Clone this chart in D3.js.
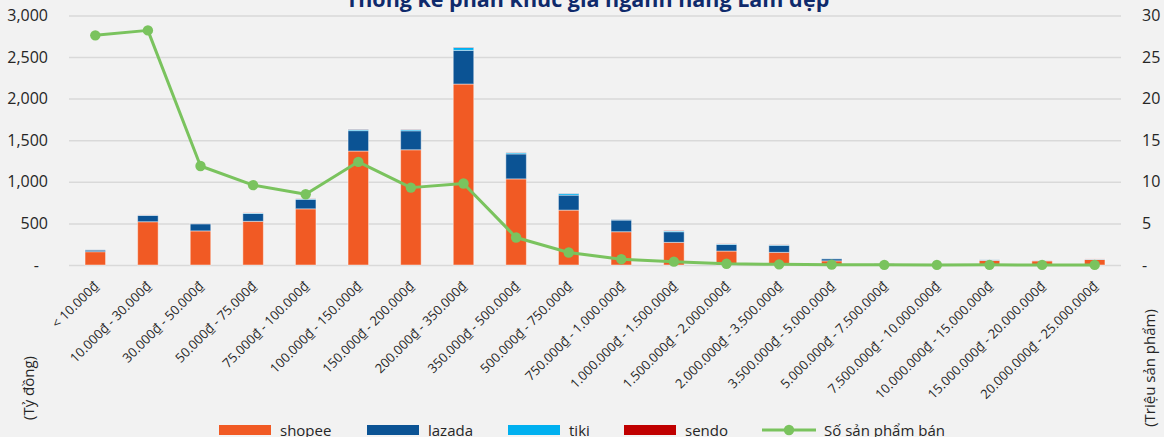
<!DOCTYPE html>
<html>
<head>
<meta charset="utf-8">
<script src="https://cdn.jsdelivr.net/npm/d3@7"></script>
<style>
  html, body { margin: 0; padding: 0; background: #f2f2f2; }
  svg { display: block; }
</style>
</head>
<body>
<svg id="chart" width="1164" height="437"></svg>
<script>
// Price segments
const categories = [
  "< 10.000₫", "10.000₫ - 30.000₫", "30.000₫ - 50.000₫", "50.000₫ - 75.000₫",
  "75.000₫ - 100.000₫", "100.000₫ - 150.000₫", "150.000₫ - 200.000₫",
  "200.000₫ - 350.000₫", "350.000₫ - 500.000₫", "500.000₫ - 750.000₫",
  "750.000₫ - 1.000.000₫", "1.000.000₫ - 1.500.000₫", "1.500.000₫ - 2.000.000₫",
  "2.000.000₫ - 3.500.000₫", "3.500.000₫ - 5.000.000₫", "5.000.000₫ - 7.500.000₫",
  "7.500.000₫ - 10.000.000₫", "10.000.000₫ - 15.000.000₫",
  "15.000.000₫ - 20.000.000₫", "20.000.000₫ - 25.000.000₫"
];

// Revenue per platform (tỷ đồng)
const shopee = [160, 520, 410, 525, 675, 1370, 1385, 2175, 1035, 660, 400, 272, 168, 152, 50, 6, 0, 55, 50, 68];
const lazada = [20, 75, 85, 95, 115, 245, 228, 405, 300, 180, 140, 128, 80, 85, 25, 8, 0, 5, 3, 2];
const tiki   = [3, 5, 5, 5, 5, 15, 15, 35, 15, 20, 8, 10, 5, 5, 4, 3, 0, 3, 2, 2];
const sendo  = [1, 2, 2, 2, 2, 3, 3, 4, 3, 2, 2, 4, 2, 2, 1, 2, 0, 1, 1, 1];

// Products sold (triệu sản phẩm)
const sold = [27.6, 28.2, 11.9, 9.6, 8.5, 12.4, 9.3, 9.8, 3.3, 1.5, 0.7, 0.4, 0.15, 0.08, 0.04, 0.02, 0.01, 0.02, 0.01, 0.01];

const leftTicks = [0, 500, 1000, 1500, 2000, 2500, 3000];
const rightTicks = [0, 5, 10, 15, 20, 25, 30];

const seriesNames = ["shopee", "lazada", "tiki", "sendo"];
const seriesColors = ["#f15a24", "#0b5394", "#00b0f0", "#c00000"];
const lineName = "Số sản phẩm bán";
const lineColor = "#7ac35e";

const title = "Thống kê phân khúc giá ngành hàng Làm đẹp";
const leftTitle = "(Tỷ đồng)";
const rightTitle = "(Triệu sản phẩm)";

const FONT = '"Open Sans", "Noto Sans", sans-serif';
const TEXT = "#262626";

const svg = d3.select("#chart");
const W = 1164, H = 437;
const plot = { left: 69, right: 1121, top: 15.4, bottom: 265 };

svg.append("rect").attr("width", W).attr("height", H).attr("fill", "#f2f2f2");

const x = d3.scaleBand().domain(categories).range([plot.left, plot.right]).padding(0);
const yL = d3.scaleLinear().domain([0, 3000]).range([plot.bottom, plot.top]);
const yR = d3.scaleLinear().domain([0, 30]).range([plot.bottom, plot.top]);

// Left axis with gridlines
const gL = svg.append("g")
  .attr("transform", `translate(${plot.left},0)`)
  .call(d3.axisLeft(yL).tickValues(leftTicks)
    .tickSize(-(plot.right - plot.left)).tickPadding(21)
    .tickFormat(d => d === 0 ? "-" : d3.format(",")(d)));
gL.select(".domain").remove();
gL.selectAll(".tick line").attr("stroke", "#d9d9d9").attr("stroke-width", 1.5);
gL.selectAll(".tick text").attr("fill", TEXT)
  .style("font-family", FONT).style("font-size", "16px")
  .attr("dx", d => d === 0 ? -9 : 0);

// Right axis
const gR = svg.append("g")
  .attr("transform", `translate(${plot.right},0)`)
  .call(d3.axisRight(yR).tickValues(rightTicks).tickSize(0).tickPadding(21)
    .tickFormat(d => d === 0 ? "-" : d));
gR.select(".domain").remove();
gR.selectAll(".tick text").attr("fill", TEXT)
  .style("font-family", FONT).style("font-size", "16px");

// Stacked bars
const rows = categories.map((c, i) => ({ cat: c, shopee: shopee[i], lazada: lazada[i], tiki: tiki[i], sendo: sendo[i] }));
const stacked = d3.stack().keys(seriesNames)(rows);
const barW = x.bandwidth() * 0.39;

svg.append("g").selectAll("g").data(stacked).join("g")
  .attr("fill", (d, i) => seriesColors[i])
  .selectAll("rect").data(d => d).join("rect")
    .attr("x", d => x(d.data.cat) + x.bandwidth() / 2 - barW / 2)
    .attr("y", d => yL(d[1]))
    .attr("width", barW)
    .attr("height", d => Math.max(0, yL(d[0]) - yL(d[1])))
    .attr("stroke", "#ffffff").attr("stroke-opacity", 0.45).attr("stroke-width", 1);

// Line of products sold
const cx = c => x(c) + x.bandwidth() / 2;
svg.append("path")
  .datum(sold)
  .attr("fill", "none").attr("stroke", lineColor).attr("stroke-width", 3)
  .attr("stroke-linejoin", "round")
  .attr("d", d3.line().x((d, i) => cx(categories[i])).y(d => yR(d)));
svg.append("g").selectAll("circle").data(sold).join("circle")
  .attr("cx", (d, i) => cx(categories[i]))
  .attr("cy", d => yR(d))
  .attr("r", 5.2).attr("fill", lineColor);

// Category labels
const gX = svg.append("g")
  .attr("transform", `translate(0,${plot.bottom})`)
  .call(d3.axisBottom(x).tickSize(0).tickPadding(0));
gX.select(".domain").remove();
gX.selectAll(".tick text")
  .attr("fill", TEXT).style("font-family", FONT).style("font-size", "13px")
  .attr("text-anchor", "end")
  .attr("dy", 0).attr("y", 0)
  .attr("transform", "translate(4,22) rotate(-45)");

// Title
svg.append("text")
  .attr("x", 587.5).attr("y", 7)
  .attr("text-anchor", "middle")
  .attr("fill", "#0f2a6b")
  .style("font-family", FONT).style("font-size", "21.5px").style("font-weight", "bold")
  .text(title);

// Axis titles
svg.append("text")
  .attr("transform", "translate(34,388) rotate(-90)")
  .attr("text-anchor", "middle").attr("fill", TEXT)
  .style("font-family", FONT).style("font-size", "15px")
  .text(leftTitle);
svg.append("text")
  .attr("transform", "translate(1155,368) rotate(-90)")
  .attr("text-anchor", "middle").attr("fill", TEXT)
  .style("font-family", FONT).style("font-size", "15px")
  .text(rightTitle);

// Legend
const legendItems = [
  { name: seriesNames[0], color: seriesColors[0], x: 219 },
  { name: seriesNames[1], color: seriesColors[1], x: 367 },
  { name: seriesNames[2], color: seriesColors[2], x: 508 },
  { name: seriesNames[3], color: seriesColors[3], x: 624 }
];
const lg = svg.append("g");
legendItems.forEach(it => {
  lg.append("rect").attr("x", it.x).attr("y", 425).attr("width", 52).attr("height", 10).attr("fill", it.color);
  lg.append("text").attr("x", it.x + 61).attr("y", 435.5).attr("fill", TEXT)
    .style("font-family", FONT).style("font-size", "15px").text(it.name);
});
lg.append("line").attr("x1", 762).attr("x2", 816).attr("y1", 430).attr("y2", 430)
  .attr("stroke", lineColor).attr("stroke-width", 3);
lg.append("circle").attr("cx", 789).attr("cy", 430).attr("r", 5.2).attr("fill", lineColor);
lg.append("text").attr("x", 824).attr("y", 435.5).attr("fill", TEXT)
  .style("font-family", FONT).style("font-size", "15px").text(lineName);
</script>
</body>
</html>
